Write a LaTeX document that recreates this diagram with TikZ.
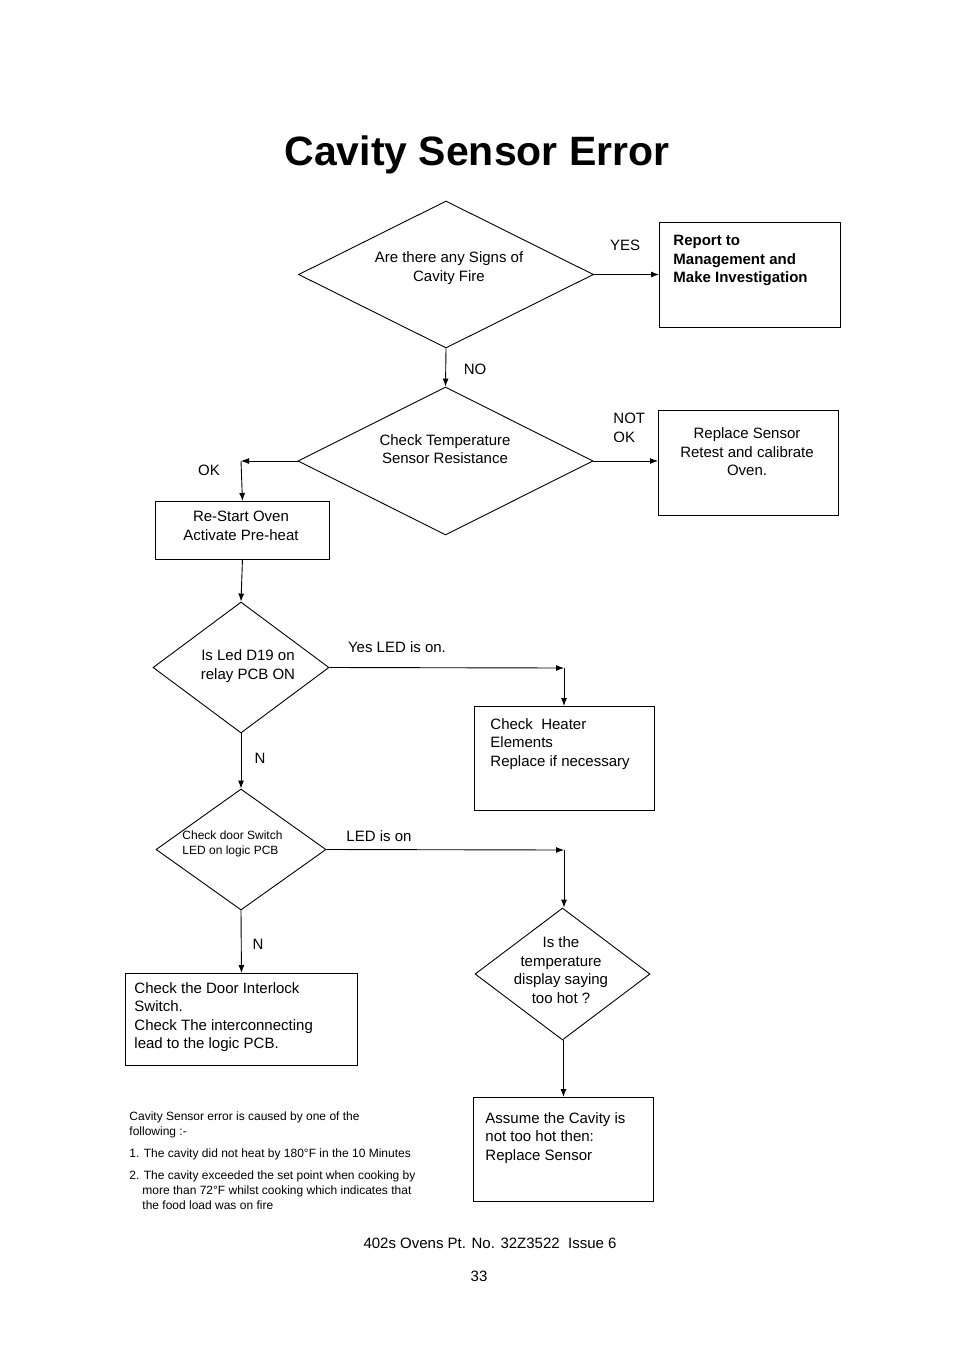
\documentclass[tikz,border=0pt]{standalone}
\usepackage{fontspec}
\setmainfont{Liberation Sans}
\usetikzlibrary{shapes.geometric,arrows.meta}
\begin{document}
\begin{tikzpicture}[x=1pt,y=-1pt,
  line width=0.9pt,
  arr/.style={-{Latex[length=8pt,width=6pt]}},
  dia/.style={draw,diamond,inner sep=0pt,minimum width=#1},
  box/.style={draw,rectangle,inner sep=0pt,anchor=north west},
  txt/.style={font=\fontsize{15}{18.5}\selectfont,inner sep=0pt,align=center},
  ltxt/.style={font=\fontsize{15}{18.5}\selectfont,inner sep=0pt,align=left,anchor=north west},
  stxt/.style={font=\fontsize{12}{15}\selectfont,inner sep=0pt,align=left,anchor=north west}]
\useasboundingbox (0,0) rectangle (954,1351);
\node[inner sep=0pt,font=\fontsize{41}{48}\selectfont\bfseries] (title) at (477,155) {Cavity Sensor Error};
% diamond 1
\node[dia=295pt,minimum height=147pt] (d1) at (446,274.5) {};
\node[txt] (t1) at (449,268) {Are there any Signs of\\Cavity Fire};
\node[box,minimum width=181pt,minimum height=105pt] (b1) at (659,222) {};
\node[ltxt,font=\fontsize{15}{18.5}\selectfont\bfseries] (tb1) at (673,235) {Report to\\Management and\\Make Investigation};
\draw[arr] (d1.east) -- (b1.west|-d1.east);
\node[txt] (yes) at (625,245) {YES};
% diamond 2
\node[dia=295pt,minimum height=148pt] (d2) at (445.5,461) {};
\draw[arr] (d1.south) -- (d2.north);
\node[txt] (no) at (475,369) {NO};
\node[txt] (t2) at (445,449) {Check Temperature\\Sensor Resistance};
\node[box,minimum width=180pt,minimum height=105pt] (b2) at (658,410) {};
\node[txt] (tb2) at (747,452) {Replace Sensor\\Retest and calibrate\\Oven.};
\draw[arr] (d2.east) -- (b2.west|-d2.east);
\node[ltxt] (notok) at (613,413) {NOT\\OK};
% OK branch
\coordinate (okc) at (241,461);
\node[box,minimum width=174pt,minimum height=58pt] (b3) at (155,501) {};
\node[txt] (tb3) at (241,526) {Re-Start Oven\\Activate Pre-heat};
\draw[arr] (d2.west) -- (okc);
\draw[arr] (okc) -- (b3.north);
\node[txt] (ok) at (209,470) {OK};
% diamond 3
\node[dia=176pt,minimum height=131pt] (d3) at (241,667.5) {};
\draw[arr] (b3.south) -- (d3.north);
\node[txt] (t3) at (248,666) {Is Led D19 on\\relay PCB ON};
\node[box,minimum width=180pt,minimum height=104pt] (b4) at (474,706) {};
\node[ltxt] (tb4) at (490,718) {Check\ \ Heater\\Elements\\Replace if necessary};
\coordinate (c3) at (564,668);
\draw[arr] (d3.east) -- (c3);
\draw[arr] (c3) -- (b4.north-|c3);
\node[txt] (yl) at (397,647) {Yes LED is on.};
% diamond 4
\node[dia=170pt,minimum height=121pt] (d4) at (241,849.5) {};
\draw[arr] (d3.south) -- (d4.north);
\node[txt] (n1) at (260,758) {N};
\node[stxt] (t4) at (182,830) {Check door Switch\\LED on logic PCB};
\node[box,minimum width=232pt,minimum height=92pt] (b5) at (125,973) {};
\node[ltxt] (tb5) at (134,982) {Check the Door Interlock\\Switch.\\Check The interconnecting\\lead to the logic PCB.};
\draw[arr] (d4.south) -- (b5.north);
\node[txt] (n2) at (258,944) {N};
% diamond 5
\node[dia=175pt,minimum height=132pt] (d5) at (562.5,974) {};
\coordinate (c4) at (564,850);
\draw[arr] (d4.east) -- (c4);
\draw[arr] (c4) -- (d5.north-|c4);
\node[txt] (li) at (379,836) {LED is on};
\node[txt] (t5) at (561,970) {Is the\\temperature\\display saying\\too hot ?};
\node[box,minimum width=180pt,minimum height=104pt] (b6) at (473,1097) {};
\node[ltxt] (tb6) at (485,1112) {Assume the Cavity is\\not too hot then:\\Replace Sensor};
\draw[arr] (d5.south-|b6.north) -- (b6.north);
% notes
\node[stxt] (n3) at (129,1111) {Cavity Sensor error is caused by one of the\\following :-};
\node[stxt] (n4) at (129,1148) {1. The cavity did not heat by 180°F in the 10 Minutes};
\node[stxt] (n5) at (129,1170) {2. The cavity exceeded the set point when cooking by\\\hspace*{13pt}more than 72°F whilst cooking which indicates that\\\hspace*{13pt}the food load was on fire};
\node[txt] (foot) at (490,1243) {402s Ovens Pt. No. 32Z3522\ \ Issue 6};
\node[txt] (pg) at (479,1276) {33};
\end{tikzpicture}
\end{document}
